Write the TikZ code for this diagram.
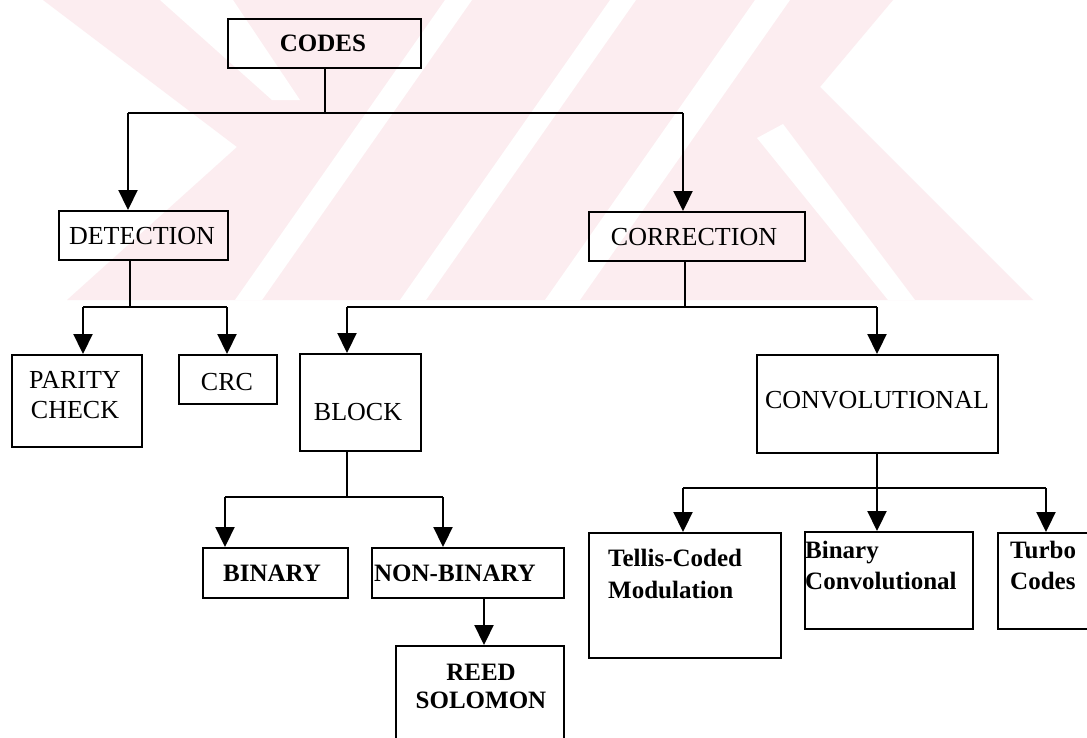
\documentclass[tikz,border=0pt]{standalone}
\usepackage{fontspec}
\setmainfont{Liberation Serif}
\usetikzlibrary{arrows.meta}
\definecolor{wm}{RGB}{252,237,240}

\begin{document}
\begin{tikzpicture}[x=1pt,y=-1pt,
  box/.style={draw, line width=2.4pt, inner sep=0pt, anchor=north west},
  conn/.style={line width=2.2pt},
  arr/.style={conn, -{Triangle[width=19pt,length=20pt]}},
  lbl/.style={inner sep=0pt, font=\fontsize{26}{30}\selectfont},
  blbl/.style={inner sep=0pt, font=\fontsize{25}{31}\selectfont\bfseries},
]
\path[use as bounding box, clip] (0,0) rectangle (1087,737);
\fill[white] (0,0) rectangle (1087,737);

% faint background emblem
\fill[wm] (43,0) -- (893,0) -- (820,87) -- (1033,300) -- (67,300) -- (237,147) -- cycle;
\fill[white] (160,0) -- (233,0) -- (300,100) -- (272,100) -- cycle;
\fill[white] (445,0) -- (472,0) -- (262,300) -- (235,300) -- cycle;
\fill[white] (610,0) -- (636,0) -- (426,300) -- (400,300) -- cycle;
\fill[white] (755,0) -- (790,0) -- (580,300) -- (545,300) -- cycle;
\fill[white] (757,138) -- (783,124) -- (915,300) -- (888,300) -- cycle;

% boxes
\node[box, minimum width=193pt, minimum height=49pt] (codes)   at (227,18)  {};
\node[box, minimum width=169pt, minimum height=49pt] (detect)  at (58,210)  {};
\node[box, minimum width=216pt, minimum height=49pt] (correct) at (588,211) {};
\node[box, minimum width=130pt, minimum height=92pt] (parity)  at (11,354)  {};
\node[box, minimum width=98pt,  minimum height=49pt] (crc)     at (178,354) {};
\node[box, minimum width=121pt, minimum height=97pt] (block)   at (299,353) {};
\node[box, minimum width=241pt, minimum height=98pt] (conv)    at (756,354) {};
\node[box, minimum width=145pt, minimum height=50pt] (binary)  at (202,547) {};
\node[box, minimum width=192pt, minimum height=50pt] (nonbin)  at (371,547) {};
\node[box, minimum width=168pt, minimum height=110pt] (reed)   at (395,645) {};
\node[box, minimum width=192pt, minimum height=125pt] (tellis) at (588,532) {};
\node[box, minimum width=168pt, minimum height=97pt] (binconv) at (804,531) {};
\node[box, minimum width=110pt, minimum height=96pt] (turbo)   at (997,532) {};

% labels
\node[blbl] (codes-t)   at (323,43)  {CODES};
\node[lbl]  (detect-t)  at (142,236) {DETECTION};
\node[lbl]  (correct-t) at (694,237) {CORRECTION};
\node[lbl, align=center, anchor=north] (parity-t) at (75,371.5) {PARITY\\CHECK};
\node[lbl]  (crc-t)     at (227,382) {CRC};
\node[lbl]  (block-t)   at (358,412) {BLOCK};
\node[lbl]  (conv-t)    at (877,400) {CONVOLUTIONAL};
\node[blbl] (binary-t)  at (272,573) {BINARY};
\node[blbl] (nonbin-t)  at (455,573) {NON-BINARY};
\node[blbl, align=center, anchor=north, font=\fontsize{25}{28}\selectfont\bfseries] (reed-t) at (481,663.5) {REED\\SOLOMON};
\node[blbl, align=left, anchor=north west, font=\fontsize{25}{32}\selectfont\bfseries] (tellis-t) at (608,549) {Tellis-Coded\\Modulation};
\node[blbl, align=left, anchor=north west] (binconv-t) at (805,540.5) {Binary\\Convolutional};
\node[blbl, align=left, anchor=north west] (turbo-t)   at (1010,540.5) {Turbo\\Codes};

% codes -> detection / correction
\coordinate (b0l) at (128,113);
\coordinate (b0r) at (683,113);
\draw[conn] (codes.south) -- (codes.south |- b0l);
\draw[conn] (b0l) -- (b0r);
\draw[arr] (b0l) -- (b0l |- detect.north);
\draw[arr] (b0r) -- (b0r |- correct.north);

% detection -> parity check / crc
\coordinate (b1s) at (130,307);
\coordinate (b1l) at (83,307);
\coordinate (b1r) at (227,307);
\draw[conn] (b1s |- detect.south) -- (b1s);
\draw[conn] (b1l) -- (b1r);
\draw[arr] (b1l) -- (b1l |- parity.north);
\draw[arr] (b1r) -- (b1r |- crc.north);

% correction -> block / convolutional
\coordinate (b2s) at (685,307);
\coordinate (b2l) at (347,307);
\coordinate (b2r) at (877,307);
\draw[conn] (b2s |- correct.south) -- (b2s);
\draw[conn] (b2l) -- (b2r);
\draw[arr] (b2l) -- (b2l |- block.north);
\draw[arr] (b2r) -- (b2r |- conv.north);

% block -> binary / non-binary
\coordinate (b3s) at (347,497);
\coordinate (b3l) at (225,497);
\coordinate (b3r) at (443,497);
\draw[conn] (b3s |- block.south) -- (b3s);
\draw[conn] (b3l) -- (b3r);
\draw[arr] (b3l) -- (b3l |- binary.north);
\draw[arr] (b3r) -- (b3r |- nonbin.north);

% non-binary -> reed solomon
\coordinate (b4) at (484,620);
\draw[arr] (b4 |- nonbin.south) -- (b4 |- reed.north);

% convolutional -> three families
\coordinate (b5s) at (877,488);
\coordinate (b5l) at (683,488);
\coordinate (b5r) at (1046,488);
\draw[conn] (b5s |- conv.south) -- (b5s);
\draw[conn] (b5l) -- (b5r);
\draw[arr] (b5l) -- (b5l |- tellis.north);
\draw[arr] (b5s) -- (b5s |- binconv.north);
\draw[arr] (b5r) -- (b5r |- turbo.north);
\end{tikzpicture}
\end{document}
